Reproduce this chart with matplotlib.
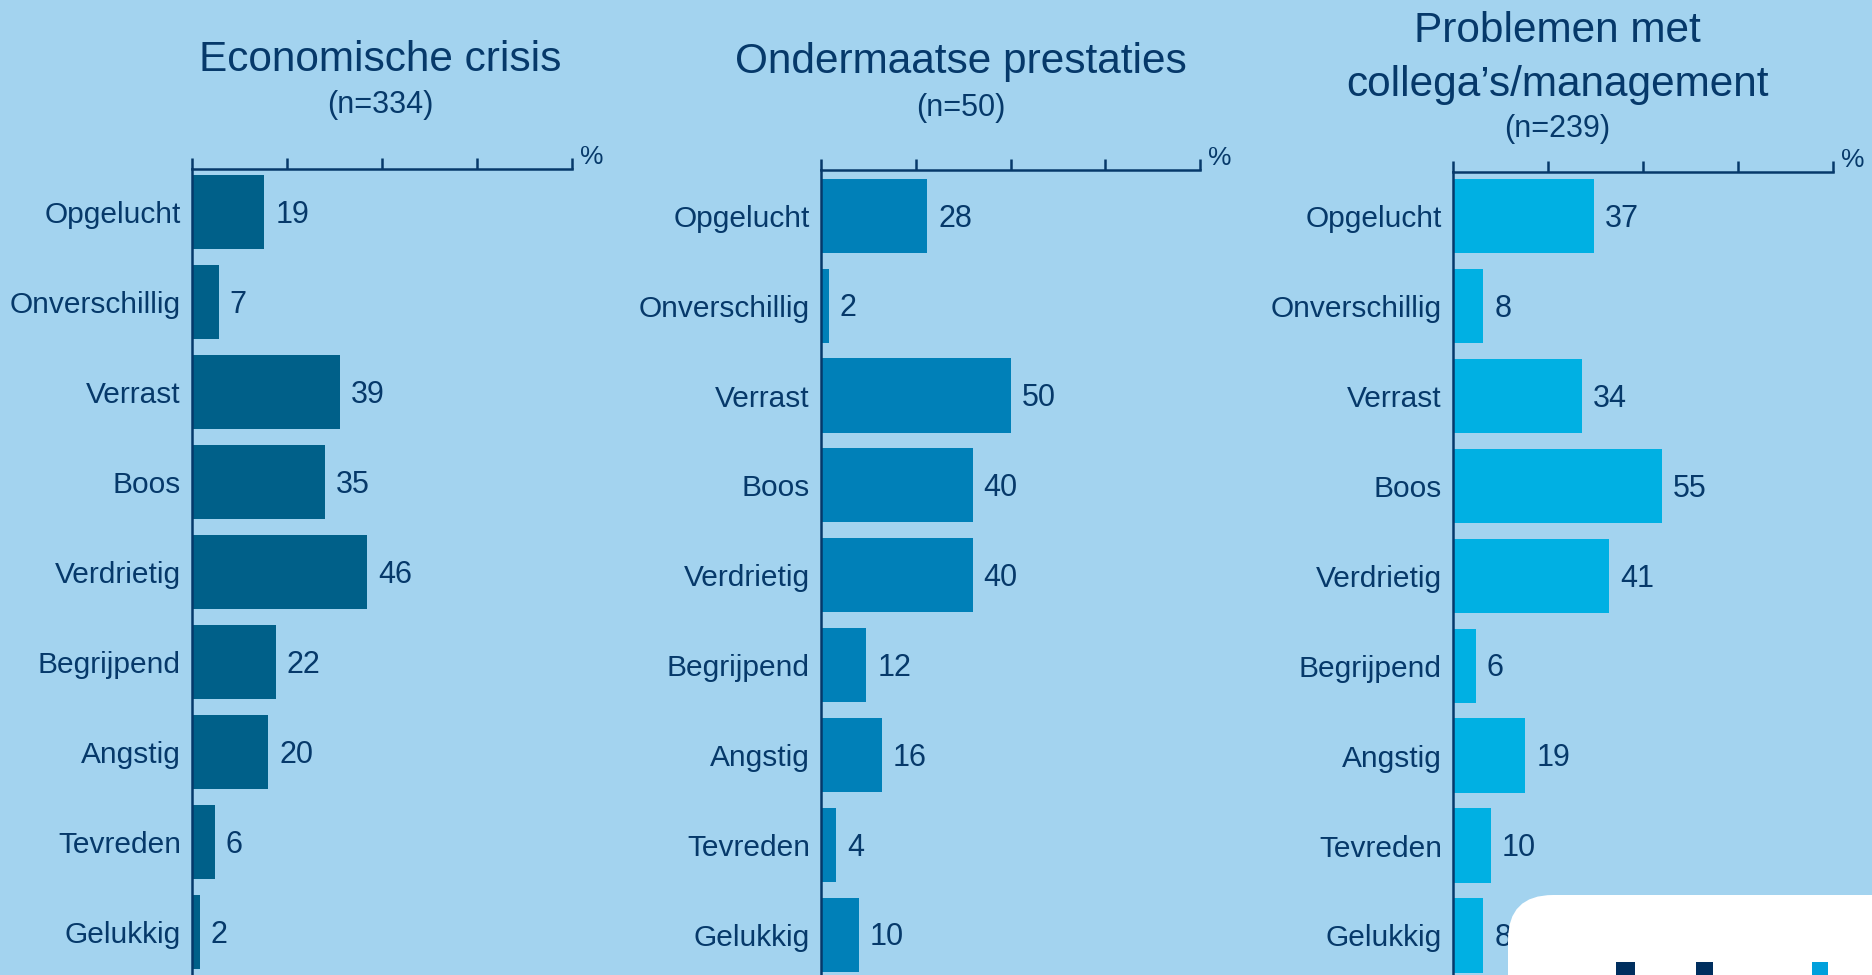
import matplotlib
matplotlib.use("Agg")
import matplotlib.pyplot as plt
from matplotlib.patches import FancyBboxPatch, Rectangle

plt.rcParams['font.family'] = ['Liberation Sans', 'DejaVu Sans']

categories = ["Opgelucht", "Onverschillig", "Verrast", "Boos", "Verdrietig",
              "Begrijpend", "Angstig", "Tevreden", "Gelukkig"]
crisis_values = [19, 7, 39, 35, 46, 22, 20, 6, 2]
prestaties_values = [28, 2, 50, 40, 40, 12, 16, 4, 10]
collega_values = [37, 8, 34, 55, 41, 6, 19, 10, 8]
titles = ["Economische crisis", "Ondermaatse prestaties", "Problemen met", "collega\u2019s/management"]
subtitles = ["(n=334)", "(n=50)", "(n=239)"]
xticks = [0, 25, 50, 75, 100]

BG = '#A3D3EF'
TXT = '#06396A'
bar_colors = ['#006089', '#0080B8', '#00B0E3']

W, H = 1872, 975
fig = plt.figure(figsize=(W / 100, H / 100), dpi=100, facecolor=BG)

# axes placement in pixels: (left, right, top, ylim_top, ylim_bottom)
panels = [
    (192, 572, 169, -0.48, 8.48),
    (821, 1200, 170, -0.51, 8.45),
    (1453, 1833, 172, -0.49, 8.44),
]
series = [crisis_values, prestaties_values, collega_values]

for i, ((l, r, t, ytop, ybot), vals) in enumerate(zip(panels, series)):
    ax = fig.add_axes([l / W, 0, (r - l) / W, 1 - t / H])
    ax.set_facecolor(BG)
    ypos = list(range(len(categories)))
    ax.barh(ypos, vals, height=0.825, color=bar_colors[i], zorder=2)
    ax.set_xlim(0, 100)
    ax.set_ylim(ybot, ytop)
    for sp in ['right', 'bottom']:
        ax.spines[sp].set_visible(False)
    for sp in ['top', 'left']:
        ax.spines[sp].set_color(TXT)
        ax.spines[sp].set_linewidth(1.8)
    ax.xaxis.tick_top()
    ax.set_xticks(xticks)
    ax.set_xticklabels([])
    ax.tick_params(axis='x', direction='out', length=8, width=1.8, color=TXT)
    ax.set_yticks(ypos)
    ax.set_yticklabels(categories, fontsize=21.5, color=TXT)
    ax.tick_params(axis='y', length=0, pad=8)
    for y, v in zip(ypos, vals):
        ax.annotate(str(v), (v, y), xytext=(8, -2), textcoords='offset points',
                    ha='left', va='center', fontsize=22, color=TXT)
    ax.annotate('%', (100, 1), xycoords=('data', 'axes fraction'),
                xytext=(6, 0), textcoords='offset points',
                ha='left', va='bottom', fontsize=19, color=TXT)

# Titles (pixel positions)
def ftext(x, y, s, size):
    fig.text(x / W, 1 - y / H, s, ha='center', va='center', fontsize=size,
             color=TXT)

ftext(380, 60, titles[0], 30.5)
ftext(380, 105, subtitles[0], 22)
ftext(961, 62, titles[1], 30.5)
ftext(961, 108, subtitles[1], 22)
ftext(1557, 31, titles[2], 30.5)
ftext(1557, 85, titles[3], 30.5)
ftext(1557, 129, subtitles[2], 22)

# overlay for the logo box in pixel coordinates
ov = fig.add_axes([0, 0, 1, 1], zorder=10)
ov.set_xlim(0, W)
ov.set_ylim(H, 0)
ov.axis('off')
ov.patch.set_alpha(0)
ov.add_patch(FancyBboxPatch((1508, 895), 500, 200,
                            boxstyle="round,pad=0,rounding_size=45",
                            facecolor='white', edgecolor='none'))
ov.add_patch(Rectangle((1616, 962), 19, 20, facecolor='#002F5F', edgecolor='none'))
ov.add_patch(Rectangle((1696, 962), 17, 20, facecolor='#002F5F', edgecolor='none'))
ov.add_patch(Rectangle((1812, 962), 16, 20, facecolor='#00A0DC', edgecolor='none'))

fig.savefig('out.png', dpi=100, facecolor=BG)
